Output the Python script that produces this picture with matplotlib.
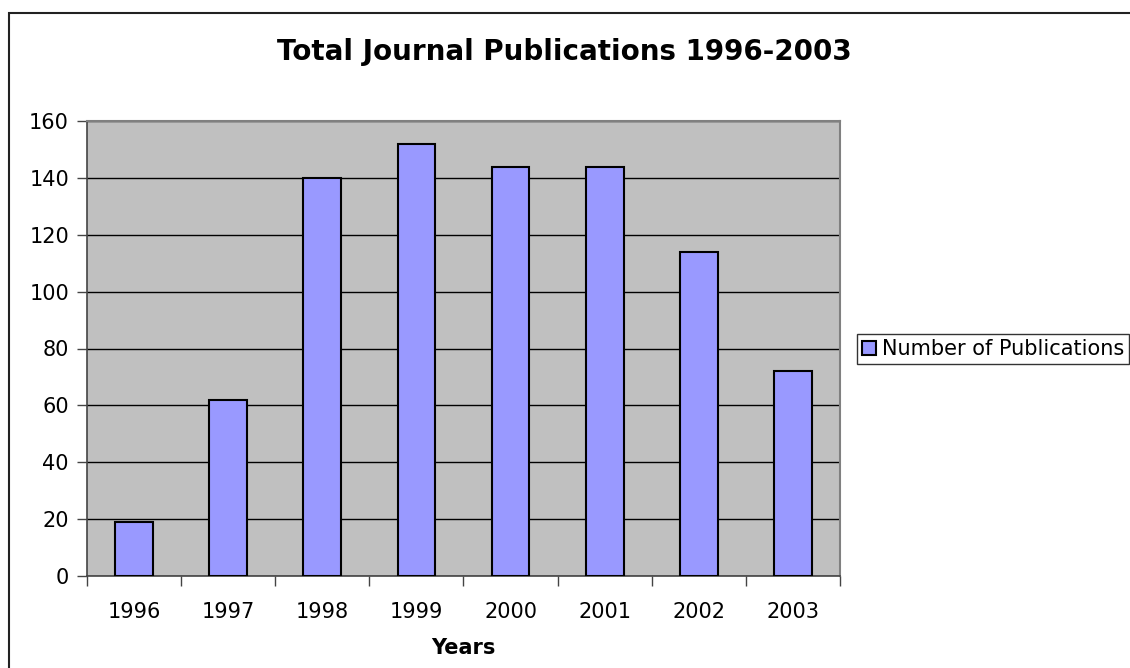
import numpy as np
import matplotlib.pyplot as plt
from matplotlib.patches import Rectangle

years = ['1996', '1997', '1998', '1999', '2000', '2001', '2002', '2003']
publications = [19, 62, 140, 152, 144, 144, 114, 72]
yticks = [0, 20, 40, 60, 80, 100, 120, 140, 160]

plt.rcParams['font.family'] = ['DejaVu Sans']

fig = plt.figure(figsize=(11.3, 6.68), dpi=100)
ax = fig.add_axes([87 / 1130, 92 / 668, (840 - 87) / 1130, (576 - 121) / 668])

# outer chart frame (left and top only visible in the reference)
fig.patches.append(Rectangle((9 / 1130, -0.1), 1.2, (668 - 13) / 668 + 0.1,
                             transform=fig.transFigure, fill=False,
                             edgecolor='#222222', linewidth=1.5))

x = np.arange(len(years))
ax.set_facecolor('#C0C0C0')
ax.bar(x, publications, width=0.4, color='#9999FF', edgecolor='black',
       linewidth=1.5, label='Number of Publications', zorder=3)

ax.set_xlim(-0.5, len(years) - 0.5)
ax.set_ylim(0, 160)
ax.set_yticks(yticks)
ax.yaxis.grid(True, color='black', linewidth=1.0, zorder=1)
ax.set_axisbelow(True)

ax.set_xticks(x)
ax.set_xticklabels(years, fontsize=15)
ax.tick_params(axis='x', length=0, pad=19)
ax.set_xticks(np.arange(-0.5, len(years)), minor=True)
ax.tick_params(axis='x', which='minor', length=7, width=1, color='#444444', direction='out')
ax.tick_params(axis='y', labelsize=15, length=7, width=1, color='#444444', pad=6)

for side in ['left', 'bottom']:
    ax.spines[side].set_color('#444444')
    ax.spines[side].set_linewidth(1.2)
for side in ['top', 'right']:
    ax.spines[side].set_color('#808080')
    ax.spines[side].set_linewidth(1.5)

ax.set_xlabel('Years', fontsize=15, fontweight='bold', labelpad=11)
fig.text(564 / 1130, 1 - 52 / 668, 'Total Journal Publications 1996-2003',
         ha='center', va='center', fontsize=20, fontweight='bold')

leg = ax.legend(loc='center left', bbox_to_anchor=(857 / 1130, 1 - 349 / 668),
                bbox_transform=fig.transFigure, fontsize=15, frameon=True,
                fancybox=False, edgecolor='black', handlelength=0.65,
                handleheight=0.65, handletextpad=0.3, borderpad=0.25,
                borderaxespad=0)
leg.get_frame().set_linewidth(1.0)

fig.savefig('out.png', dpi=100)
